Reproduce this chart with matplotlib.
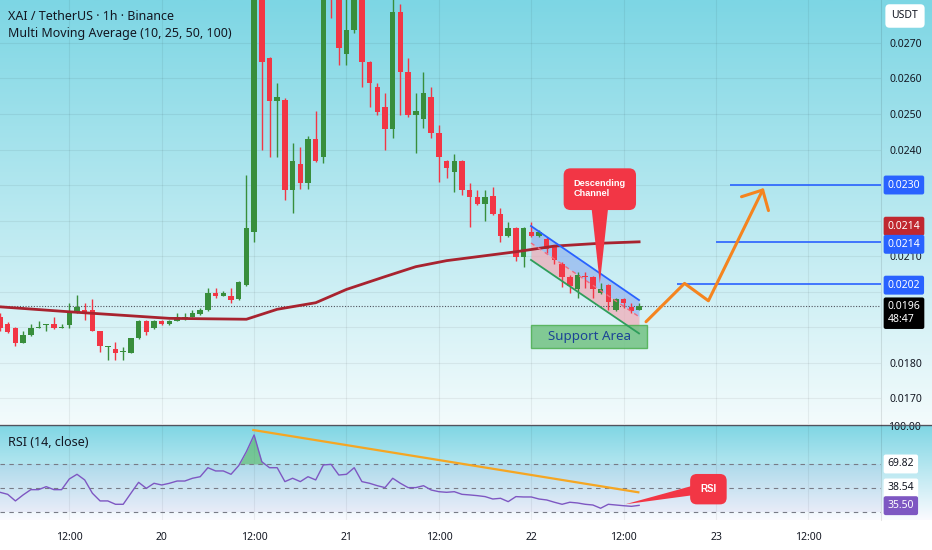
import numpy as np
import matplotlib
matplotlib.use("Agg")
import matplotlib.pyplot as plt
from matplotlib.colors import LinearSegmentedColormap
from matplotlib.patches import Polygon, Rectangle, FancyBboxPatch
from matplotlib.lines import Line2D
from matplotlib.transforms import blended_transform_factory

plt.rcParams['font.family'] = ['Noto Sans', 'DejaVu Sans']

# XAI/USDT 1h candles, prices in units of 0.0001 USDT
opens = [192.9, 190.8, 189.6, 185.6, 187.7, 189.7, 190.7, 190.8, 189.7, 190.6,
         193.9, 194.8, 194.8, 188.9, 184.5, 183.8, 182.95, 182.8, 186.8, 191.8,
         189.6, 191.8, 190.8, 191.8, 192.4, 192.9, 193.7, 194.8, 199.7, 198.8,
         198.8, 197.8, 201.8, 216.8, 298.0, 265.9, 253.7, 253.9, 228.6, 235.9,
         230.6, 242.9, 237.8, 292.0, 285.0, 266.8, 273.7, 287.0, 264.7, 257.7,
         251.9, 245.7, 278.6, 261.8, 249.7, 248.6, 254.7, 244.7, 236.9, 233.7,
         236.9, 228.6, 226.7, 224.6, 226.9, 221.8, 215.6, 217.8, 209.6, 216.8,
         215.6, 214.7, 212.8, 207.7, 204.0, 200.7, 204.3, 204.0, 199.7, 201.8,
         194.8, 197.8, 195.7, 194.8]
highs = [193.9, 191.4, 190.0, 189.0, 190.8, 191.8, 190.8, 192.9, 190.8, 196.7,
         199.0, 196.7, 197.8, 188.9, 184.6, 185.9, 184.4, 187.0, 192.0, 192.0,
         192.0, 192.0, 192.0, 193.9, 193.9, 194.8, 195.3, 200.9, 200.9, 200.1,
         200.9, 203.0, 232.8, 300.0, 305.0, 266.0, 258.6, 254.5, 241.9, 240.8,
         243.8, 250.8, 292.0, 295.0, 288.0, 284.0, 290.0, 290.0, 265.0, 258.6,
         255.8, 284.0, 281.0, 265.9, 255.8, 261.9, 257.5, 246.9, 237.0, 238.7,
         237.0, 230.6, 228.6, 228.6, 229.5, 223.4, 219.7, 218.1, 218.1, 219.7,
         217.3, 215.4, 213.1, 208.3, 204.7, 205.5, 205.6, 204.4, 202.3, 202.1,
         198.1, 198.1, 196.7, 196.7]
lows = [188.9, 188.3, 184.7, 185.5, 187.5, 189.6, 189.0, 189.4, 189.7, 189.8,
        193.9, 192.0, 188.9, 183.0, 180.7, 180.7, 180.7, 182.6, 186.6, 187.75,
        189.4, 190.6, 190.6, 191.6, 192.1, 192.7, 193.5, 194.6, 198.1, 198.7,
        196.8, 197.6, 201.6, 214.0, 239.9, 238.0, 238.0, 225.8, 222.0, 228.8,
        228.8, 236.5, 236.1, 277.0, 263.8, 263.8, 272.7, 257.7, 252.0, 249.7,
        239.9, 243.1, 249.7, 249.1, 238.9, 246.0, 243.1, 230.9, 231.9, 228.1,
        227.2, 218.1, 224.4, 219.9, 221.5, 214.0, 215.3, 208.7, 207.0, 215.3,
        215.3, 210.8, 207.7, 201.3, 199.7, 198.1, 200.9, 198.1, 199.4, 194.8,
        194.6, 195.3, 193.9, 194.7]
closes = [189.6, 188.7, 185.6, 187.9, 189.8, 189.9, 190.8, 189.6, 189.9, 194.0,
          195.7, 193.9, 188.9, 184.6, 184.6, 182.8, 183.0, 186.8, 191.8, 188.7,
          191.8, 190.8, 191.8, 192.9, 192.9, 193.9, 194.8, 199.7, 198.8, 199.7,
          197.6, 202.8, 217.8, 298.0, 264.7, 253.7, 254.9, 228.6, 236.9, 230.6,
          242.9, 236.8, 290.0, 285.0, 268.7, 273.7, 287.0, 264.7, 258.6, 250.6,
          245.7, 278.6, 261.8, 249.7, 250.8, 255.8, 244.7, 237.8, 234.7, 236.9,
          228.6, 226.7, 224.6, 226.7, 221.8, 215.6, 217.8, 209.6, 217.8, 215.6,
          216.8, 211.9, 208.9, 204.0, 201.5, 204.7, 204.1, 200.7, 200.7, 197.1,
          197.8, 196.7, 194.6, 196.0]

# 100-period moving average, read at a few bars
ma_bars = [0, 9, 22, 32, 36, 41, 45, 50, 54, 58, 67, 72, 78, 83]
ma_vals = [195.7, 194.3, 192.45, 192.2, 195.0, 196.85, 200.6, 204.2, 207.0,
           208.7, 211.2, 212.8, 213.6, 214.0]

rsi = [46.4, 44.7, 39.2, 44.2, 48.6, 48.6, 51.1, 48.6, 48.6, 57.5, 61.4, 56.7,
       45.6, 39.2, 39.2, 36.4, 36.4, 45.6, 54.7, 49.7, 53.9, 52.5, 53.9, 55.8,
       55.8, 58.1, 59.4, 66.9, 64.2, 64.2, 61.4, 68.6, 80.3, 94.2, 71.9, 66.9,
       66.9, 55.3, 58.1, 55.3, 59.4, 56.7, 69.2, 69.7, 60.8, 61.4, 66.9, 55.3,
       53.9, 51.9, 50.3, 58.1, 53.9, 50.3, 50.3, 51.9, 48.3, 46.9, 46.4, 46.9,
       44.7, 44.2, 43.6, 42.8, 40.8, 41.4, 38.6, 42.8, 42.5, 42.5, 40.8, 40.0,
       38.1, 36.4, 38.1, 37.5, 36.4, 35.8, 33.1, 36.4, 35.8, 35.2, 34.7, 35.5]

time_ticks = [9, 21, 33, 45, 57, 69, 81, 93, 105]
time_labels = ["12:00", "20", "12:00", "21", "12:00", "22", "12:00", "23", "12:00"]
price_grid = [0.0170, 0.0180, 0.0190, 0.0200, 0.0210, 0.0220, 0.0230,
              0.0240, 0.0250, 0.0260, 0.0270]
# scale labels not hidden behind the marker boxes
price_ticks = [0.0170, 0.0180, 0.0210, 0.0240, 0.0250, 0.0260, 0.0270]
target_levels = [230.0, 214.0, 202.0]
target_starts = [94.8, 93.0, 87.9]

SC = 1e-4
GREEN = "#388e3c"
RED = "#f23645"
TXT = "#131722"

fig = plt.figure(figsize=(9.32, 5.5), dpi=100)
fig.patch.set_facecolor("white")

main_pos = [0, 1 - 424 / 550, 881 / 932, 424 / 550]
rsi_pos = [0, 1 - 520 / 550, 881 / 932, 95 / 550]

# gradient backgrounds (full width incl. price scale)
grad = np.linspace(1, 0, 256).reshape(-1, 1)
cm_main = LinearSegmentedColormap.from_list("m", ["#f3fbfc", "#7dd6e4"])
cm_rsi = LinearSegmentedColormap.from_list("r", ["#fbfbff", "#7fd6e4"])
for pos, cm in [([0, main_pos[1], 1, main_pos[3]], cm_main),
                ([0, rsi_pos[1], 1, rsi_pos[3]], cm_rsi)]:
    bg = fig.add_axes(pos)
    bg.imshow(grad, aspect="auto", cmap=cm, extent=[0, 1, 0, 1])
    bg.set_axis_off()

ax = fig.add_axes(main_pos)
ax.set_facecolor("none")
axr = fig.add_axes(rsi_pos, sharex=ax)
axr.set_facecolor("none")

x = np.arange(len(opens))
o = np.array(opens) * SC
h = np.array(highs) * SC
l = np.array(lows) * SC
c = np.array(closes) * SC
cols = np.where(c >= o, GREEN, RED)

ax.set_xlim(0, 881 / 7.7)
ax.set_ylim(162.7 * SC, 282.1 * SC)

# grid
for t in time_ticks:
    ax.axvline(t, color=(0, 0, 0, 0.06), lw=0.8, zorder=0)
    axr.axvline(t, color=(0, 0, 0, 0.06), lw=0.8, zorder=0)
for p in price_grid:
    ax.axhline(p, color=(0, 0, 0, 0.06), lw=0.8, zorder=0)

# descending channel
ch_x = np.array([68.96, 82.99])
ch_up = np.array([218.45, 197.6]) * SC
ch_lo = np.array([208.9, 188.2]) * SC
ch_mid = (ch_up + ch_lo) / 2
ax.fill_between(ch_x, ch_mid, ch_up, color="#8fb0f0", alpha=0.65, lw=0, zorder=1)
ax.fill_between(ch_x, ch_lo, ch_mid, color="#f2a9b5", alpha=0.7, lw=0, zorder=1)

# candles
ax.vlines(x, l, h, colors=cols, lw=1, zorder=3)
body = np.maximum(np.abs(c - o), 0.3 * SC)
ax.bar(x, body, bottom=np.minimum(o, c), width=0.72, color=cols, lw=0, zorder=4)

# moving average
ax.plot(ma_bars, np.array(ma_vals) * SC, color="#a8232f", lw=2, zorder=5)

ax.plot(ch_x, ch_up, color="#2962ff", lw=1.3, zorder=7)
ax.plot(ch_x, ch_lo, color="#2e9e5b", lw=1.3, zorder=7)
ax.plot(ch_x, ch_mid, color="#f06a80", lw=1, ls=(0, (3, 3)), zorder=7)

# current price line
ax.axhline(c[-1], color="#50535e", lw=0.8, ls=(0, (1, 1.5)), zorder=2)

# support area
ax.add_patch(Rectangle((68.96, 184.0 * SC), 84.0 - 68.96, 6.56 * SC,
                       fc="#72c283", ec="#4caf50", lw=1, alpha=0.85, zorder=6))
ax.text(76.5, 187.3 * SC, "Support Area", color="#1c4496", fontsize=9.6,
        ha="center", va="center", zorder=8)

# descending channel callout
asp = (SC / 3.55) / (1 / 7.7)
ax.add_patch(FancyBboxPatch((73.2, 222.95 * SC), 9.4, 11.75 * SC,
                            boxstyle="round,pad=0,rounding_size=0.9",
                            mutation_aspect=asp, fc=RED, ec="none", zorder=9))
ax.add_patch(Polygon([(76.8, 224 * SC), (79.0, 224 * SC), (77.9, 202.3 * SC)],
                     closed=True, fc=RED, ec="none", zorder=9))
ax.text(77.9, 229.0 * SC, "Descending\nChannel", color="white", fontsize=6.6,
        family="Liberation Sans", fontweight="bold", ha="center", va="center",
        multialignment="left", linespacing=1.1, zorder=10)

# target lines and projected path
ax.hlines(np.array(target_levels) * SC, target_starts, 881 / 7.7,
          color="#2962ff", lw=1.2, zorder=6)
path_x = [83.9, 88.9, 92.0, 99.05]
path_y = np.array([191.5, 202.3, 197.4, 228.6]) * SC
ax.plot(path_x, path_y, color="#f5841f", lw=2.2, zorder=8, solid_capstyle="round")
ax.plot([96.3, 99.05, 99.8], np.array([226.7, 228.6, 222.8]) * SC,
        color="#f5841f", lw=2.2, zorder=8, solid_capstyle="round")

# price scale
ax.yaxis.tick_right()
ax.set_yticks(price_ticks)
ax.set_yticklabels([f"{p:.4f}" for p in price_ticks])
ax.tick_params(axis="y", length=0, pad=6, labelsize=7.5, labelcolor=TXT)
ax.tick_params(axis="x", length=0, labelbottom=False)
for s in ax.spines.values():
    s.set_visible(False)

tr = blended_transform_factory(ax.transAxes, ax.transData)
price_boxes = [("0.0230", 230.0, "#2962ff", "white"),
               ("0.0214", 218.4, "#c0272f", "white"),
               ("0.0214", 213.3, "#2962ff", "white"),
               ("0.0202", 201.8, "#2962ff", "white"),
               ("0.0196\n48:47", 193.9, "#000000", "white")]
for txt, yv, fc, tc in price_boxes:
    ax.text(1.0075, yv * SC, txt, transform=tr, fontsize=7.5, color=tc,
            ha="left", va="center", linespacing=1.2, clip_on=False, zorder=10,
            bbox=dict(boxstyle="round,pad=0.38,rounding_size=0.2", fc=fc, ec="none"))

# RSI panel
rsi_arr = np.array(rsi)
axr.set_ylim(23.3, 102.5)
axr.fill_between([0, 881 / 7.7], 30, 70, color="#7e57c2", alpha=0.07, lw=0)
for lv in [70, 50, 30]:
    axr.axhline(lv, color="#787b86", lw=0.8, ls=(0, (4, 4)))
axr.fill_between(x, rsi_arr, 70, where=rsi_arr > 70, interpolate=True,
                 color="#4caf50", alpha=0.55, lw=0)
axr.plot(x, rsi_arr, color="#7e57c2", lw=1)
axr.plot([32.9, 82.9], [98.3, 46.4], color="#f5a623", lw=1.6)

axr.text(92.0, 49.0, "RSI", color="white", fontsize=7, fontweight="bold",
         family="Liberation Sans", ha="center", va="center", zorder=6,
         bbox=dict(boxstyle="round,pad=1.05,rounding_size=0.7", fc=RED, ec="none"))
axr.add_patch(Polygon([(81.2, 36.4), (90.6, 53.0), (90.6, 44.5)],
                      closed=True, fc=RED, ec="none", zorder=5))

trr = blended_transform_factory(axr.transAxes, axr.transData)
axr.text(1.0075, 100, "100.00", transform=trr, fontsize=7.5, color=TXT,
         ha="left", va="center", clip_on=False)
for txt, yv, fc, tc in [("69.82", 70, "white", TXT), ("38.54", 50, "white", TXT),
                        ("35.50", 35.25, "#7e57c2", "white")]:
    axr.text(1.0075, yv, txt, transform=trr, fontsize=7.5, color=tc,
             ha="left", va="center", clip_on=False, zorder=10,
             bbox=dict(boxstyle="round,pad=0.38,rounding_size=0.2", fc=fc, ec="none"))

axr.set_yticks([])
axr.set_xticks(time_ticks)
axr.set_xticklabels(time_labels)
for lab in axr.get_xticklabels():
    if ":" not in lab.get_text():
        lab.set_fontweight("bold")
axr.tick_params(axis="x", length=0, pad=9, labelsize=7.5, labelcolor=TXT)
for s in axr.spines.values():
    s.set_visible(False)

# panel separators
fig.add_artist(Line2D([0, 1], [1 - 425 / 550] * 2, color="#50535e", lw=1))
fig.add_artist(Line2D([881 / 932] * 2, [rsi_pos[1], 1], color=(0, 0, 0, 0.1), lw=0.8))

# legends
fig.text(8 / 932, 1 - 17 / 550, "XAI / TetherUS \u00b7 1h \u00b7 Binance",
         fontsize=9, color=TXT, va="center")
fig.text(8 / 932, 1 - 34 / 550, "Multi Moving Average (10, 25, 50, 100)",
         fontsize=9, color=TXT, va="center")
fig.text(8 / 932, 1 - 443 / 550, "RSI (14, close)", fontsize=9, color=TXT,
         va="center")
fig.text(905 / 932, 1 - 16 / 550, "USDT", fontsize=7.5, color=TXT,
         ha="center", va="center",
         bbox=dict(boxstyle="round,pad=0.6,rounding_size=0.4", fc="white", ec="none"))

fig.savefig("out.png", dpi=100)
